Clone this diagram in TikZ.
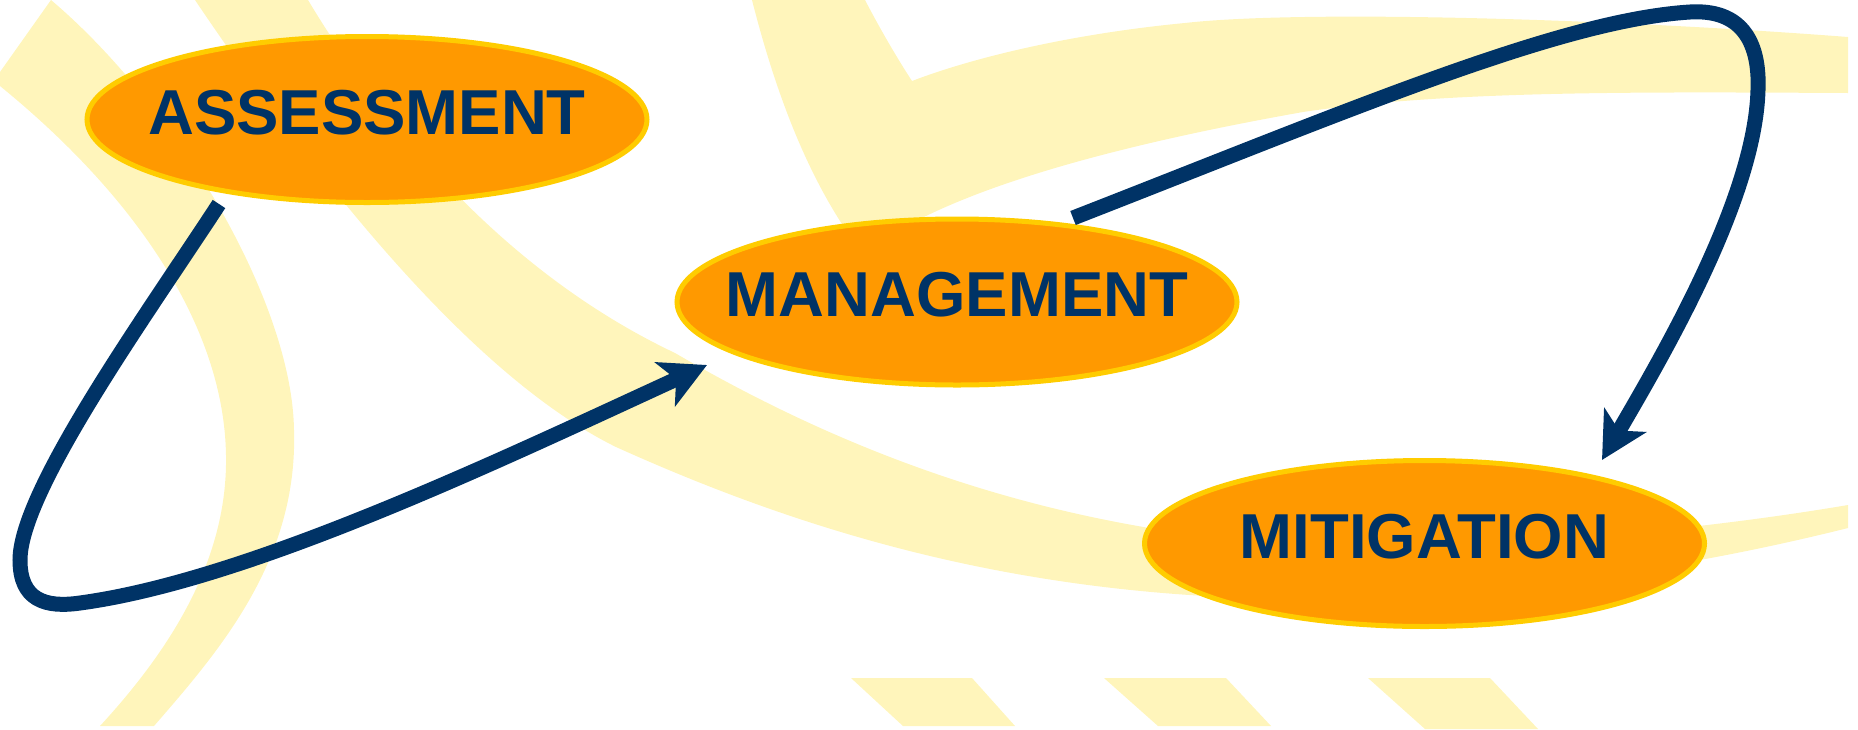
\documentclass[tikz,border=0pt]{standalone}
\usepackage{fontspec}
\setmainfont{Liberation Sans}
\usetikzlibrary{arrows.meta,calc,shapes.geometric}
\definecolor{bandc}{HTML}{FFF5BB}
\definecolor{fillc}{HTML}{FF9900}
\definecolor{rimc}{HTML}{FFCC00}
\definecolor{navyc}{HTML}{003366}
\newcommand\stagetext[1]{\raisebox{-14.5pt}[0pt][0pt]{\makebox[0pt]{#1}}}
\begin{document}
\begin{tikzpicture}[x=1pt,y=-1pt,
  band/.style={fill=bandc},
  stage/.style={ellipse, draw=rimc, fill=fillc, line width=5pt,
    minimum width=560pt, minimum height=166pt, inner sep=0pt,
    font=\fontsize{63.5}{63.5}\selectfont\bfseries, text=navyc},
  flow/.style={draw=navyc, line width=15pt,
    -{Stealth[length=46pt,width=48pt,inset=12pt]}}]
\useasboundingbox (0,0) rectangle (1858,729);

% background bands
\fill[band] (0,72) -- (51,0) .. controls (175,105) and (292,300) .. (294,430)
  .. controls (298,560) and (220,650) .. (154,726) -- (100,726)
  .. controls (170,650) and (228,560) .. (226,455)
  .. controls (224,330) and (140,200) .. (0,86) -- cycle;

\fill[band] (308,0) .. controls (380,120) and (500,270) .. (675,353)
  .. controls (850,455) and (1050,530) .. (1300,545)
  .. controls (1500,550) and (1700,530) .. (1848,505) -- (1848,528)
  .. controls (1700,565) and (1500,600) .. (1250,598)
  .. controls (1000,590) and (800,530) .. (616,447)
  .. controls (480,380) and (330,200) .. (195,0) -- cycle;

\fill[band] (752,0) .. controls (780,110) and (815,190) .. (860,250) -- (926,216)
  .. controls (990,185) and (1100,148) .. (1303,112)
  .. controls (1450,90) and (1650,92) .. (1848,93) -- (1848,37)
  .. controls (1600,18) and (1300,10) .. (1185,23)
  .. controls (1080,33) and (980,55) .. (912,81)
  .. controls (895,55) and (878,25) .. (865,0) -- cycle;

\fill[band] (851,678) -- (972,678) -- (1015,726) -- (903,726) -- cycle;
\fill[band] (1104,678) -- (1226,678) -- (1271,726) -- (1158,726) -- cycle;
\fill[band] (1368,678) -- (1490,678) -- (1538,729) -- (1425,729) -- cycle;

% stages
\node[stage] (A) at (367,119.5) {\stagetext{ASSESSMENT}};
\node[stage] (M) at (957,302) {\stagetext{MANAGEMENT}};
\node[stage] (T) at (1424.5,543.5) {\stagetext{MITIGATION}};

\coordinate (s1) at ($(A.center)+(-148,84.5)$);
\coordinate (t1) at ($(M.center)+(-250,63)$);
\coordinate (s2) at ($(M.center)+(116,-84)$);
\coordinate (t2) at ($(T.center)+(177.5,-83.5)$);

% flows
\draw[flow] (s1) .. controls (150,310) and (20,490) .. (20,560)
  .. controls (20,600) and (45,608) .. (80,603)
  .. controls (250,580) and (500,460) .. (t1);
\draw[flow] (s2) .. controls (1350,110) and (1560,20) .. (1690,12)
  .. controls (1740,9) and (1760,40) .. (1758,90)
  .. controls (1755,200) and (1660,360) .. (t2);
\end{tikzpicture}
\end{document}
